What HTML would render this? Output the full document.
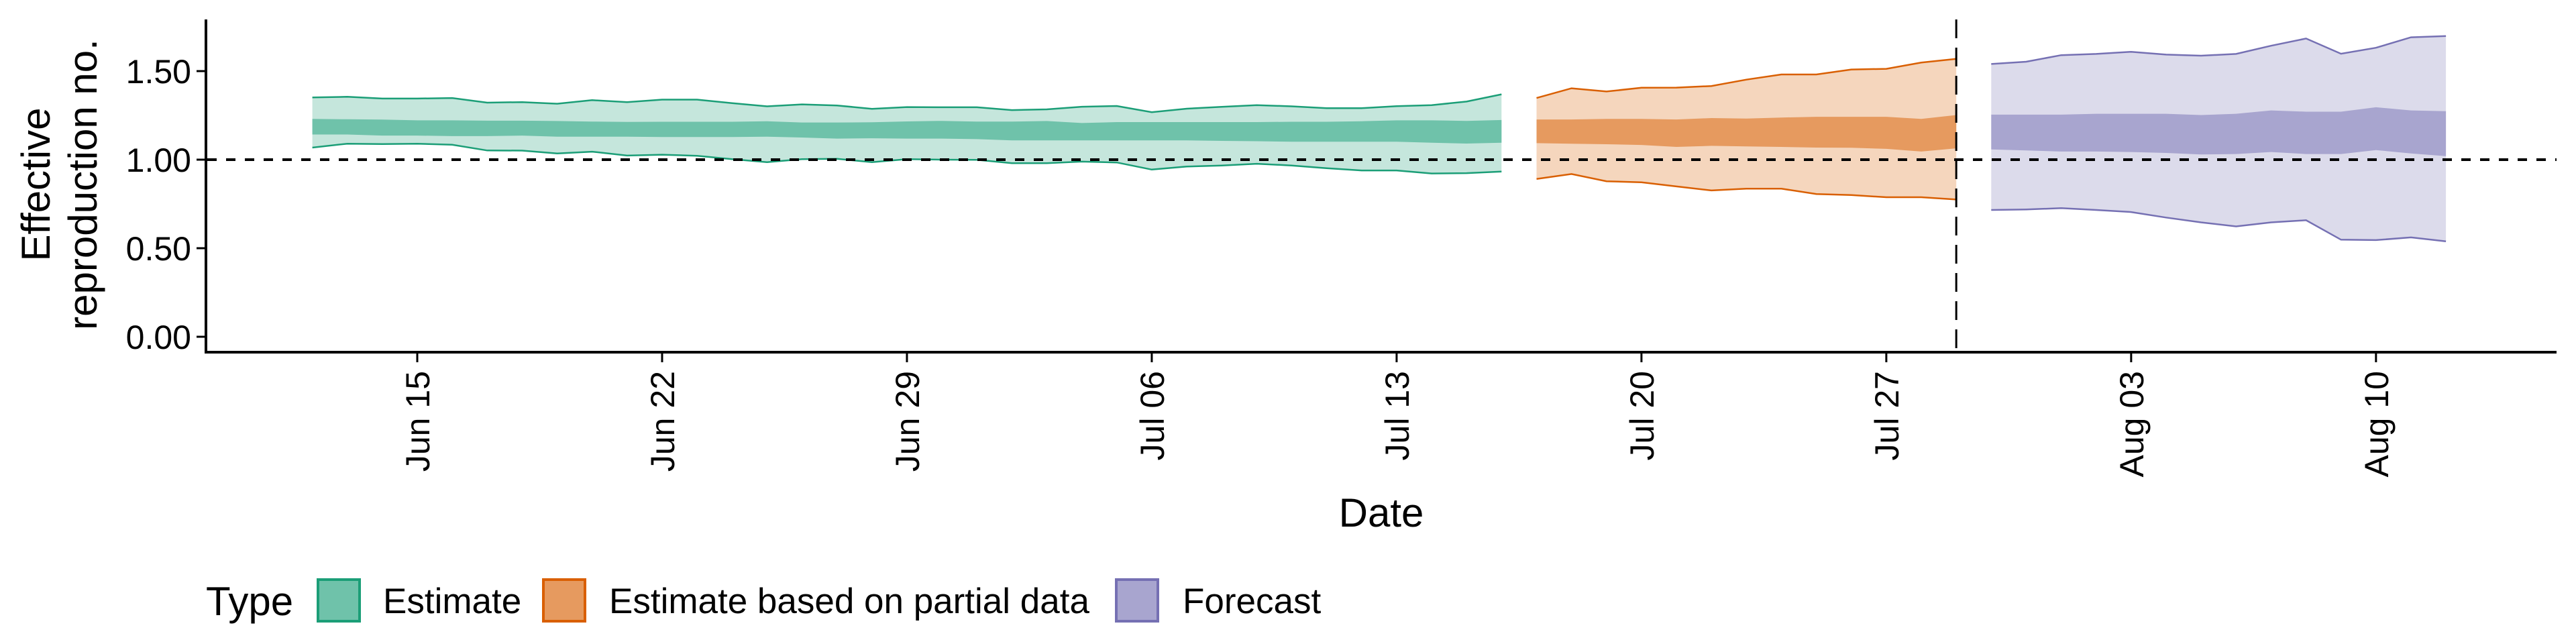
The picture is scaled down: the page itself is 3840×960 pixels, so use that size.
<!DOCTYPE html>
<html><head><meta charset="utf-8"><style>
html,body{margin:0;padding:0;background:#fff;}
svg{display:block;font-family:"Liberation Sans",sans-serif;}
</style></head><body>
<svg id="chart" width="3840" height="960" viewBox="0 0 3840 960" xmlns="http://www.w3.org/2000/svg">
<g id="bands"></g>
<g id="axes"></g>
<g id="legend"></g>
</svg>
<script>
// ---- data ----
const estStart = "2020-06-12";
const estUpper90 = [1.351,1.355,1.345,1.345,1.348,1.322,1.325,1.316,1.336,1.325,1.339,1.339,1.319,1.301,1.312,1.306,1.287,1.297,1.296,1.296,1.280,1.284,1.299,1.303,1.268,1.288,1.298,1.308,1.301,1.291,1.291,1.302,1.308,1.328,1.369];
const estLower90 = [1.068,1.090,1.088,1.090,1.084,1.052,1.051,1.035,1.045,1.023,1.028,1.022,1.003,0.986,1.003,1.005,0.986,1.003,1.000,0.999,0.980,0.980,0.989,0.984,0.944,0.961,0.967,0.977,0.967,0.952,0.939,0.939,0.922,0.924,0.933];
const estUpper50 = [1.230,1.228,1.226,1.222,1.222,1.220,1.220,1.218,1.215,1.213,1.214,1.214,1.214,1.217,1.210,1.210,1.211,1.216,1.219,1.215,1.215,1.218,1.207,1.212,1.212,1.212,1.212,1.212,1.214,1.214,1.217,1.222,1.222,1.219,1.224];
const estLower50 = [1.142,1.142,1.136,1.136,1.133,1.133,1.136,1.130,1.130,1.130,1.128,1.128,1.128,1.130,1.125,1.119,1.121,1.119,1.119,1.116,1.109,1.109,1.109,1.109,1.109,1.109,1.106,1.104,1.101,1.101,1.101,1.101,1.096,1.091,1.096];
const partStart = "2020-07-17";
const partUpper90 = [1.348,1.403,1.385,1.406,1.407,1.416,1.452,1.481,1.481,1.509,1.513,1.548,1.569];
const partLower90 = [0.891,0.919,0.878,0.872,0.849,0.826,0.836,0.836,0.806,0.800,0.788,0.788,0.775];
const partUpper50 = [1.227,1.227,1.230,1.230,1.227,1.235,1.232,1.238,1.242,1.242,1.242,1.230,1.252];
const partLower50 = [1.093,1.090,1.087,1.083,1.072,1.078,1.075,1.072,1.068,1.067,1.061,1.046,1.064];
const fcStart = "2020-07-30";
const fcUpper90 = [1.540,1.553,1.590,1.597,1.609,1.593,1.587,1.597,1.643,1.684,1.598,1.632,1.691,1.698];
const fcLower90 = [0.716,0.719,0.726,0.716,0.704,0.673,0.646,0.623,0.646,0.658,0.548,0.546,0.561,0.539];
const fcUpper50 = [1.254,1.254,1.254,1.259,1.259,1.259,1.252,1.259,1.278,1.271,1.271,1.296,1.278,1.274];
const fcLower50 = [1.058,1.052,1.046,1.046,1.043,1.038,1.029,1.032,1.043,1.032,1.032,1.054,1.035,1.020];
const yTicks = [0, 0.5, 1.0, 1.5];
const yTickLabels = ["0.00","0.50","1.00","1.50"];
const xTickDates = ["2020-06-15","2020-06-22","2020-06-29","2020-07-06","2020-07-13","2020-07-20","2020-07-27","2020-08-03","2020-08-10"];
const xTickLabels = ["Jun 15","Jun 22","Jun 29","Jul 06","Jul 13","Jul 20","Jul 27","Aug 03","Aug 10"];
const forecastDate = "2020-07-29";
const refValue = 1.0;

// ---- scales ----
const NS="http://www.w3.org/2000/svg";
const DAY=86400000;
const x0Date=Date.parse("2020-06-15");
function xs(d){ return 622 + (Date.parse(d)-x0Date)/DAY*52.14; }
function xi(start,i){ return 622 + ((Date.parse(start)-x0Date)/DAY + i)*52.14; }
function ys(v){ return 502 - v*264; }
function mk(tag,attrs,parent){ const e=document.createElementNS(NS,tag); for(const k in attrs) e.setAttribute(k,attrs[k]); parent.appendChild(e); return e; }

const bands=document.getElementById('bands');
const axes=document.getElementById('axes');
const legend=document.getElementById('legend');

function ribbon(start,up,lo,fill,name){
  let pts=[];
  for(let i=0;i<up.length;i++) pts.push(xi(start,i).toFixed(1)+","+ys(up[i]).toFixed(1));
  for(let i=lo.length-1;i>=0;i--) pts.push(xi(start,i).toFixed(1)+","+ys(lo[i]).toFixed(1));
  const p=mk('polygon',{points:pts.join(' '),fill:fill},bands);
  
  
}
function line(start,vals,stroke,name){
  let pts=[];
  for(let i=0;i<vals.length;i++) pts.push(xi(start,i).toFixed(1)+","+ys(vals[i]).toFixed(1));
  const p=mk('polyline',{points:pts.join(' '),fill:'none',stroke:stroke,'stroke-width':2.5},bands);
  
  
}
const series=[
 [estStart,estUpper90,estLower90,estUpper50,estLower50,'#c5e6dc','#6fc2aa','#1b9e77','estimate'],
 [partStart,partUpper90,partLower90,partUpper50,partLower50,'#f5d6bd','#e69a5f','#d95f02','partial-estimate'],
 [fcStart,fcUpper90,fcLower90,fcUpper50,fcLower50,'#dcdbeb','#a8a5cf','#7570b3','forecast']
];
series.forEach(s=>{
  ribbon(s[0],s[1],s[2],s[5],s[8]+'-90-band');
  ribbon(s[0],s[3],s[4],s[6],s[8]+'-50-band');
  line(s[0],s[1],s[7],s[8]+'-upper-line');
  line(s[0],s[2],s[7],s[8]+'-lower-line');
});

// reference lines
const hl=mk('line',{x1:309,x2:3811,y1:ys(refValue),y2:ys(refValue),stroke:'#000','stroke-width':4,'stroke-dasharray':'14 14'},axes);


const vl=mk('line',{x1:xs(forecastDate),x2:xs(forecastDate),y1:29,y2:523,stroke:'#000','stroke-width':3,'stroke-dasharray':'28 14'},axes);



// axes
const ya=mk('line',{x1:307,x2:307,y1:29,y2:526,stroke:'#000','stroke-width':4},axes);


const xa=mk('line',{x1:305,x2:3811,y1:525,y2:525,stroke:'#000','stroke-width':4},axes);


yTicks.forEach((v,i)=>{
  const t=mk('line',{x1:293,x2:307,y1:ys(v),y2:ys(v),stroke:'#000','stroke-width':3},axes);
  
  
  const l=mk('text',{x:285,y:ys(v)+18,'text-anchor':'end','font-size':50,fill:'#000'},axes);
  l.textContent=yTickLabels[i];
  
  
});
xTickDates.forEach((d,i)=>{
  const x=xs(d);
  const t=mk('line',{x1:x,x2:x,y1:525,y2:540,stroke:'#000','stroke-width':3},axes);
  
  
  const l=mk('text',{x:0,y:0,'text-anchor':'end','font-size':50,fill:'#000',transform:`translate(${x+18},${553}) rotate(-90)`},axes);
  l.textContent=xTickLabels[i];
  
  
});
const xt=mk('text',{x:2059,y:785,'text-anchor':'middle','font-size':60,fill:'#000'},axes);
xt.textContent='Date';


const ytg=mk('text',{'text-anchor':'middle','font-size':60,fill:'#000',transform:'translate(0,275) rotate(-90)'},axes);


const t1=mk('tspan',{x:0,y:74},ytg); t1.textContent='Effective';
const t2=mk('tspan',{x:0,y:144},ytg); t2.textContent='reproduction no.';

// legend
const lt=mk('text',{x:307,y:917,'font-size':60,fill:'#000'},legend);
lt.textContent='Type';


const legItems=[[474,'#6fc2aa','#1b9e77',571,'Estimate'],[810,'#e69a5f','#d95f02',908,'Estimate based on partial data'],[1664,'#a8a5cf','#7570b3',1763,'Forecast']];
legItems.forEach(it=>{
  const r=mk('rect',{x:it[0],y:864,width:62,height:62,fill:it[1],stroke:it[2],'stroke-width':4},legend);
  
  
  const t=mk('text',{x:it[3],y:914,'font-size':53,fill:'#000'},legend);
  t.textContent=it[4];
  
  
});
</script>
</body></html>
